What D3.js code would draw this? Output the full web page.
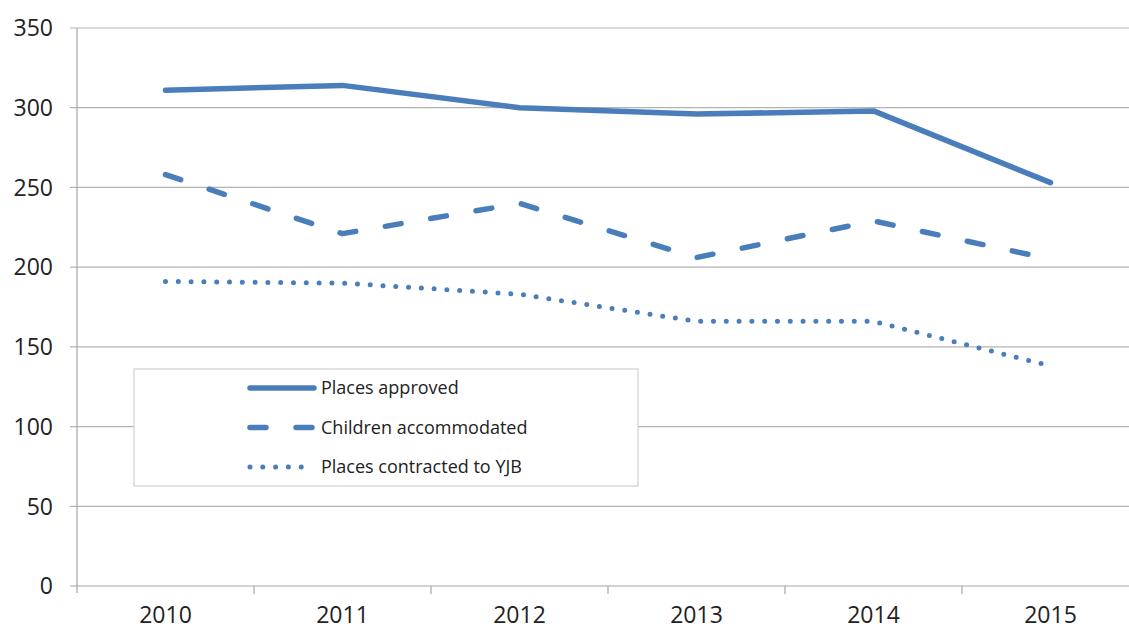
<!DOCTYPE html>
<html>
<head>
<meta charset="utf-8">
<script src="https://cdn.jsdelivr.net/npm/d3@7"></script>
<style>
    body { margin: 0; background: #fff; }
    text { font-family: "Open Sans", sans-serif; fill: #222; }
</style>
</head>
<body>
<svg id="chart"></svg>
<script>
// data
const years = ['2010', '2011', '2012', '2013', '2014', '2015'];
const placesApproved = [311, 314, 300, 296, 298, 253];
const childrenAccommodated = [258, 221, 240, 206, 229, 205];
const placesContracted = [191, 190, 183, 166, 166, 138];
const yTicks = [0, 50, 100, 150, 200, 250, 300, 350];

const series = [
    { name: 'Places approved', values: placesApproved, dash: null },
    { name: 'Children accommodated', values: childrenAccommodated, dash: '16,30' },
    { name: 'Places contracted to YJB', values: placesContracted, dash: '0,12.8' }
];

const width = 1129, height = 630;
const margin = { top: 28, right: -10, bottom: 44, left: 77 };
const color = '#4a7ebb';

const svg = d3.select('#chart')
    .attr('width', width)
    .attr('height', height);

const xScale = d3.scaleBand()
    .domain(years)
    .range([margin.left, width - margin.right]);

const yScale = d3.scaleLinear()
    .domain([0, 350])
    .range([height - margin.bottom, margin.top]);

// gridlines
svg.append('g')
    .selectAll('line')
    .data(yTicks)
    .join('line')
    .attr('x1', margin.left - 7)
    .attr('x2', width)
    .attr('y1', d => yScale(d))
    .attr('y2', d => yScale(d))
    .attr('stroke', d => d === 0 ? '#a6a6a6' : '#b3b3b3')
    .attr('stroke-width', 1.2);

// y axis line
svg.append('line')
    .attr('x1', margin.left).attr('x2', margin.left)
    .attr('y1', yScale(350)).attr('y2', yScale(0) + 7)
    .attr('stroke', '#a6a6a6')
    .attr('stroke-width', 1.2);

// y labels
svg.append('g')
    .selectAll('text')
    .data(yTicks)
    .join('text')
    .attr('x', 53)
    .attr('y', d => yScale(d))
    .attr('dy', '0.36em')
    .attr('text-anchor', 'end')
    .style('font-size', '23px')
    .text(d => d);

// x axis labels
const xAxis = d3.axisBottom(xScale).tickSize(0).tickSizeOuter(0);
const xAxisG = svg.append('g')
    .attr('transform', `translate(0,${yScale(0)})`)
    .call(xAxis);
xAxisG.select('.domain').remove();
xAxisG.selectAll('text')
    .attr('y', 37)
    .attr('dy', 0)
    .style('font-size', '23px')
    .style('font-family', '"Open Sans", sans-serif')
    .attr('fill', '#222');

// x ticks at band edges
svg.append('g')
    .selectAll('line')
    .data(years)
    .join('line')
    .attr('x1', d => xScale(d) + xScale.bandwidth())
    .attr('x2', d => xScale(d) + xScale.bandwidth())
    .attr('y1', yScale(0))
    .attr('y2', yScale(0) + 8)
    .attr('stroke', '#a6a6a6')
    .attr('stroke-width', 1.2);

// lines
const line = d3.line()
    .x((d, i) => xScale(years[i]) + xScale.bandwidth() / 2)
    .y(d => yScale(d));

svg.append('g')
    .selectAll('path')
    .data(series)
    .join('path')
    .attr('d', d => line(d.values))
    .attr('fill', 'none')
    .attr('stroke', color)
    .attr('stroke-width', d => d.dash === '0,12.8' ? 5 : 5.5)
    .attr('stroke-linecap', 'round')
    .attr('stroke-linejoin', 'round')
    .attr('stroke-dasharray', d => d.dash);

// legend
const legend = svg.append('g')
    .attr('transform', 'translate(134,369)');

legend.append('rect')
    .attr('width', 504)
    .attr('height', 117)
    .attr('fill', '#fff')
    .attr('stroke', '#d0d0d0')
    .attr('stroke-width', 1.2);

const legendEntry = legend.selectAll('.legend-entry')
    .data(series)
    .join('g')
    .attr('class', 'legend-entry')
    .attr('transform', (d, i) => `translate(0,${19 + i * 39.5})`);

legendEntry.append('line')
    .attr('x1', 116)
    .attr('x2', 180)
    .attr('stroke', color)
    .attr('stroke-width', d => d.dash === '0,12.8' ? 5 : 5.5)
    .attr('stroke-linecap', 'round')
    .attr('stroke-dasharray', d => d.dash);

legendEntry.append('text')
    .attr('x', 187)
    .attr('dy', '0.36em')
    .style('font-size', '18px')
    .text(d => d.name);
</script>
</body>
</html>
